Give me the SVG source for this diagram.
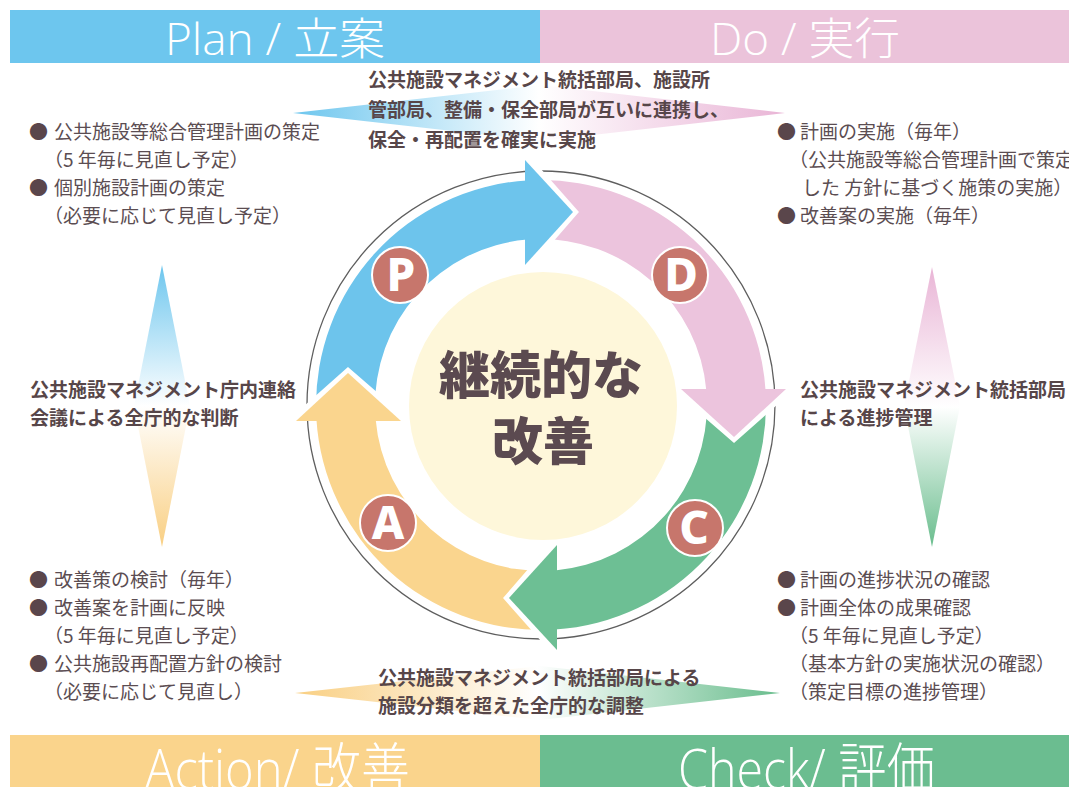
<svg xmlns="http://www.w3.org/2000/svg" width="1069" height="787" viewBox="0 0 1069 787">
<style>
.t{font-family:"Noto Sans CJK JP","Noto Sans",sans-serif;font-size:19px;fill:#5b4d52}
.b{font-weight:700;fill:#574649}
.bu{fill:#5a464b}
.hd{font-family:"Open Sans","Noto Sans CJK JP",sans-serif;font-weight:300;fill:#fff}
.badge{fill:#c7766c;stroke:#fff;stroke-width:2}
.bl{font-family:"Noto Sans","DejaVu Sans",sans-serif;font-weight:800;font-size:46px;fill:#fff;text-anchor:middle}
.edge{fill:none;stroke:#fff;stroke-width:9;stroke-linejoin:miter}
</style>
<defs>
<linearGradient id="gTop" x1="0" y1="0" x2="1" y2="0">
<stop offset="0" stop-color="#6dc6ee"/><stop offset="0.5" stop-color="#ffffff"/><stop offset="1" stop-color="#e9b5d6"/>
</linearGradient>
<linearGradient id="gBot" x1="0" y1="0" x2="1" y2="0">
<stop offset="0" stop-color="#f9cf82"/><stop offset="0.5" stop-color="#ffffff"/><stop offset="1" stop-color="#69bd8d"/>
</linearGradient>
<linearGradient id="gLeft" x1="0" y1="0" x2="0" y2="1">
<stop offset="0" stop-color="#6dc6ee"/><stop offset="0.5" stop-color="#ffffff"/><stop offset="1" stop-color="#f9cf82"/>
</linearGradient>
<linearGradient id="gRight" x1="0" y1="0" x2="0" y2="1">
<stop offset="0" stop-color="#e9b5d6"/><stop offset="0.5" stop-color="#ffffff"/><stop offset="1" stop-color="#69bd8d"/>
</linearGradient>
<path id="band" d="M -224.9 5 A 225 225 0 0 1 -14 -224.6 L -14 -165.4 A 166 166 0 0 0 -165.9 5 Z"/>
<path id="head" d="M -16 -245 L 32 -193 L -16 -140 Z"/>
<polyline id="edge" points="-14,-245 32,-193 -14,-140"/>
</defs>

<g id="headers">
<rect x="10" y="10" width="530" height="53" fill="#6dc6ee"/>
<rect x="540" y="10" width="529" height="53" fill="#ebc3da"/>
<rect x="10" y="735" width="530" height="52" fill="#fad48c"/>
<rect x="540" y="735" width="529" height="52" fill="#6bbd90"/>
<text class="hd" x="165" y="55" font-size="44" textLength="220" lengthAdjust="spacingAndGlyphs">Plan / 立案</text>
<text class="hd" x="710" y="55" font-size="44" textLength="190" lengthAdjust="spacingAndGlyphs">Do / 実行</text>
<text class="hd" x="145" y="789" font-size="56" textLength="265" lengthAdjust="spacingAndGlyphs">Action/ 改善</text>
<text class="hd" x="678" y="789" font-size="56" textLength="257" lengthAdjust="spacingAndGlyphs">Check/ 評価</text>
</g>

<g id="connectors">
<polygon points="293,113 540,85 785,113 540,141" fill="url(#gTop)"/>
<polygon points="295,693 540,666 780,693 540,720" fill="url(#gBot)"/>
<polygon points="162,265 190,406 162,547 134,406" fill="url(#gLeft)"/>
<polygon points="932,267 960,406 932,547 904,406" fill="url(#gRight)"/>
</g>

<g id="cycle">
<circle cx="541" cy="405" r="234" fill="none" stroke="#5e5e5e" stroke-width="1.3"/>
<g transform="translate(541,405)">
<use href="#band" fill="#6dc4ec"/>
<use href="#band" fill="#ecc4dd" transform="rotate(90)"/>
<use href="#band" fill="#6dbf94" transform="rotate(180)"/>
<use href="#band" fill="#fad58e" transform="rotate(270)"/>
<use href="#edge" class="edge"/>
<use href="#head" fill="#6dc4ec"/>
<use href="#edge" class="edge" transform="rotate(90)"/>
<use href="#head" fill="#ecc4dd" transform="rotate(90)"/>
<use href="#edge" class="edge" transform="rotate(180)"/>
<use href="#head" fill="#6dbf94" transform="rotate(180)"/>
<use href="#edge" class="edge" transform="rotate(270)"/>
<use href="#head" fill="#fad58e" transform="rotate(270)"/>
</g>
</g>

<g id="center">
<circle cx="543" cy="406" r="134" fill="#fef7da"/>
<text x="541" y="394" text-anchor="middle" font-family="Noto Sans CJK JP, sans-serif" font-weight="900" font-size="51" fill="#5b4a50">継続的な</text>
<text x="543" y="460" text-anchor="middle" font-family="Noto Sans CJK JP, sans-serif" font-weight="900" font-size="51" fill="#5b4a50">改善</text>
</g>

<g id="badge-P"><circle class="badge" cx="400" cy="275" r="28"/><text class="bl" x="401" y="291">P</text></g>
<g id="badge-D"><circle class="badge" cx="680" cy="275" r="28"/><text class="bl" x="681" y="291">D</text></g>
<g id="badge-C"><circle class="badge" cx="695" cy="528" r="28"/><text class="bl" x="694" y="544">C</text></g>
<g id="badge-A"><circle class="badge" cx="388" cy="523" r="28"/><text class="bl" x="388" y="539">A</text></g>

<g id="text-top" class="t b">
<text class="t b" x="368" y="87">公共施設マネジメント統括部局、施設所</text>
<text class="t b" x="368" y="117">管部局、整備・保全部局が互いに連携し、</text>
<text class="t b" x="368" y="147">保全・再配置を確実に実施</text>
</g>

<g id="text-plan">
<text class="t" y="139"><tspan class="bu" x="29">●</tspan><tspan x="54">公共施設等総合管理計画の策定</tspan></text>
<text class="t" x="44" y="167">（5 年毎に見直し予定）</text>
<text class="t" y="195"><tspan class="bu" x="29">●</tspan><tspan x="54">個別施設計画の策定</tspan></text>
<text class="t" x="44" y="223">（必要に応じて見直し予定）</text>
</g>

<g id="text-do">
<text class="t" y="139"><tspan class="bu" x="777">●</tspan><tspan x="800">計画の実施（毎年）</tspan></text>
<text class="t" x="789" y="167">（公共施設等総合管理計画で策定</text>
<text class="t" x="802" y="195">した 方針に基づく施策の実施）</text>
<text class="t" y="223"><tspan class="bu" x="777">●</tspan><tspan x="800">改善案の実施（毎年）</tspan></text>
</g>

<g id="text-left">
<text class="t b" x="30" y="397">公共施設マネジメント庁内連絡</text>
<text class="t b" x="30" y="425">会議による全庁的な判断</text>
</g>

<g id="text-right">
<text class="t b" x="800" y="397">公共施設マネジメント統括部局</text>
<text class="t b" x="800" y="425">による進捗管理</text>
</g>

<g id="text-action">
<text class="t" y="587"><tspan class="bu" x="29">●</tspan><tspan x="54">改善策の検討（毎年）</tspan></text>
<text class="t" y="615"><tspan class="bu" x="29">●</tspan><tspan x="54">改善案を計画に反映</tspan></text>
<text class="t" x="44" y="643">（5 年毎に見直し予定）</text>
<text class="t" y="671"><tspan class="bu" x="29">●</tspan><tspan x="54">公共施設再配置方針の検討</tspan></text>
<text class="t" x="44" y="699">（必要に応じて見直し）</text>
</g>

<g id="text-check">
<text class="t" y="587"><tspan class="bu" x="777">●</tspan><tspan x="800">計画の進捗状況の確認</tspan></text>
<text class="t" y="615"><tspan class="bu" x="777">●</tspan><tspan x="800">計画全体の成果確認</tspan></text>
<text class="t" x="789" y="643">（5 年毎に見直し予定）</text>
<text class="t" x="789" y="671">（基本方針の実施状況の確認）</text>
<text class="t" x="789" y="699">（策定目標の進捗管理）</text>
</g>

<g id="text-bottom">
<text class="t b" x="378" y="685">公共施設マネジメント統括部局による</text>
<text class="t b" x="378" y="713">施設分類を超えた全庁的な調整</text>
</g>
</svg>
